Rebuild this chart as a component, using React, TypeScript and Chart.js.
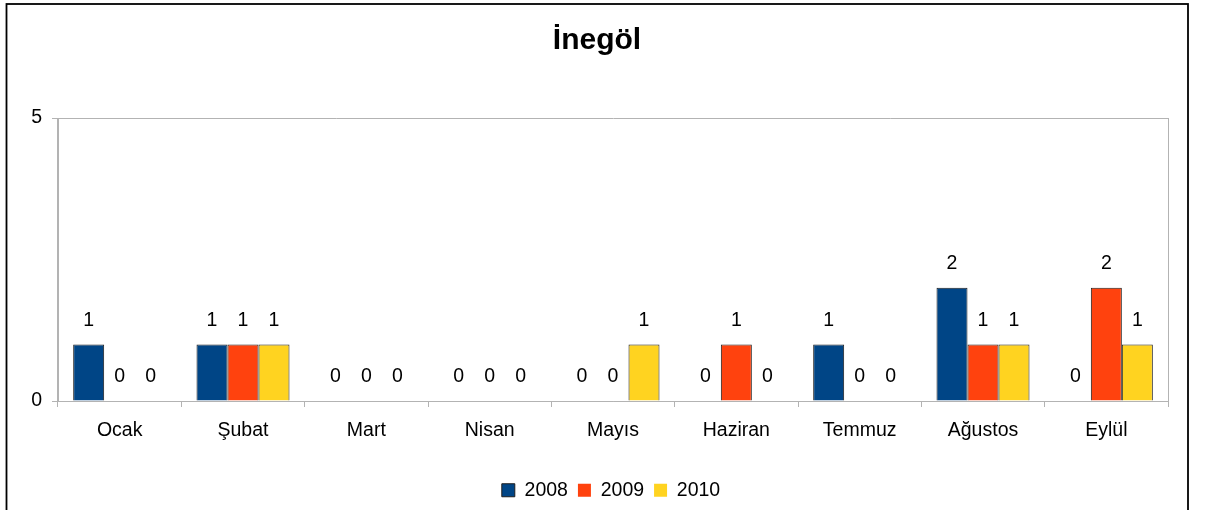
import React, { useEffect, useRef } from "react";
import { Chart, registerables } from "chart.js";

Chart.register(...registerables);

const months = ["Ocak", "Şubat", "Mart", "Nisan", "Mayıs", "Haziran", "Temmuz", "Ağustos", "Eylül"];
const values2008 = [1, 1, 0, 0, 0, 0, 1, 2, 0];
const values2009 = [0, 1, 0, 0, 0, 1, 0, 1, 2];
const values2010 = [0, 1, 0, 0, 1, 0, 0, 1, 1];
const seriesNames = ["2008", "2009", "2010"];
const seriesColors = ["#004586", "#ff420e", "#ffd320"];
const yTicks = [0, 5];
const titleText = "İnegöl";

const FONT = "'Liberation Sans', Arial, sans-serif";
const LABEL_SIZE = 19.5;
const GRID = "#b3b3b3";

const framePlugin = {
  id: "frame",
  beforeDraw(chart: any) {
    const ctx = chart.ctx;
    ctx.save();
    ctx.fillStyle = "#fff";
    ctx.fillRect(0, 0, chart.width, chart.height);
    ctx.strokeStyle = "#000";
    ctx.lineWidth = 1.8;
    ctx.strokeRect(6.5, 4, 1181.5, 700);
    ctx.restore();
  },
};

const shiftPlugin = {
  id: "shiftBlocks",
  afterLayout(chart: any) {
    if (chart.titleBlock) {
      chart.titleBlock.left += 13;
      chart.titleBlock.right += 13;
    }
    if (chart.legend) {
      chart.legend.left += 27;
      chart.legend.right += 27;
    }
  },
};

const valueLabelPlugin = {
  id: "valueLabels",
  afterDatasetsDraw(chart: any) {
    const ctx = chart.ctx;
    ctx.save();
    ctx.font = `${LABEL_SIZE}px ${FONT}`;
    ctx.fillStyle = "#000";
    ctx.textAlign = "center";
    ctx.textBaseline = "middle";
    chart.data.datasets.forEach((ds: any, di: number) => {
      const meta = chart.getDatasetMeta(di);
      meta.data.forEach((el: any, i: number) => {
        ctx.fillText(String(ds.data[i]), el.x, el.y - 24);
      });
    });
    ctx.restore();
  },
};

export default function App() {
  const ref = useRef<HTMLCanvasElement | null>(null);

  useEffect(() => {
    if (!ref.current) return;
    Chart.defaults.font.family = FONT;
    Chart.defaults.color = "#000";
    const allSeries = [values2008, values2009, values2010];
    const chart = new Chart(ref.current, {
      type: "bar",
      data: {
        labels: months,
        datasets: allSeries.map((vals, i) => ({
          label: seriesNames[i],
          data: vals,
          backgroundColor: seriesColors[i],
          borderColor: "#1e1e1e",
          borderWidth: (c: any) => (c.raw === 0 ? 0 : 1),
          categoryPercentage: 0.754,
          barPercentage: 1,
        })),
      },
      options: {
        responsive: false,
        animation: false,
        events: [],
        layout: { padding: { left: 0, right: 48, top: 0, bottom: 0 } },
        plugins: {
          title: {
            display: true,
            text: titleText,
            font: { size: 30, weight: "bold", family: FONT },
            color: "#000",
            padding: { top: 22.8, bottom: 59.2 },
          },
          legend: {
            position: "bottom",
            labels: {
              font: { size: LABEL_SIZE, family: FONT },
              color: "#000",
              boxWidth: 13,
              boxHeight: 13,
              padding: 10,
            },
          },
          tooltip: { enabled: false },
        },
        scales: {
          x: {
            grid: {
              offset: true,
              drawOnChartArea: true,
              color: (c: any) => (c.index === undefined || c.index === 0 ? GRID : "rgba(0,0,0,0)"),
              tickColor: GRID,
              tickLength: 6,
            },
            border: { display: true, color: GRID },
            ticks: { font: { size: LABEL_SIZE, family: FONT }, color: "#000", padding: 12, maxRotation: 0 },
            afterFit: (s: any) => {
              s.height = 69.5;
            },
          },
          y: {
            min: yTicks[0],
            max: yTicks[yTicks.length - 1],
            afterBuildTicks: (s: any) => {
              s.ticks = yTicks.map((v) => ({ value: v }));
            },
            grid: { color: GRID, tickColor: GRID, tickLength: 6 },
            border: { display: true, color: GRID },
            ticks: { font: { size: LABEL_SIZE, family: FONT }, color: "#000", padding: 10 },
            afterFit: (s: any) => {
              s.width = 58;
            },
          },
        },
      },
      plugins: [framePlugin, shiftPlugin, valueLabelPlugin],
    } as any);
    return () => chart.destroy();
  }, []);

  return (
    <div style={{ position: "absolute", left: 0, top: 0, width: 1216, height: 510 }}>
      <canvas ref={ref} width={1216} height={510} style={{ width: 1216, height: 510, display: "block" }} />
    </div>
  );
}
